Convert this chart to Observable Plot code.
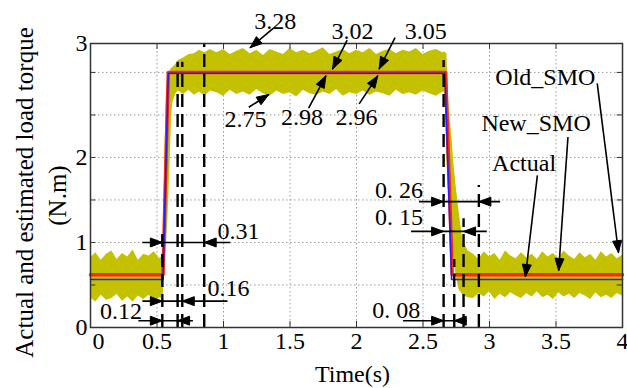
<!DOCTYPE html>
<html><head><meta charset="utf-8">
<script src="https://cdn.jsdelivr.net/npm/d3@7"></script>
<script src="https://cdn.jsdelivr.net/npm/@observablehq/plot@0.6"></script>
<style>body{margin:0;background:#fff} svg text{font-family:"Liberation Serif","Times New Roman",serif !important;}</style>
</head><body><div id="chart"></div>
<script>
// ---- axis ticks ----
const xTicks = [0,0.5,1,1.5,2,2.5,3,3.5,4];
const xTickLabels = ["0","0.5","1","1.5","2","2.5","3","3.5","4"];
const yLabelPos = [0,1,2,3.34];
const yLabelText = ["0","1","2","3"];
const yGrid = [0.5,1,1.5,2,2.5,3];
const xGrid = [0.5,1,1.5,2,2.5,3,3.5];
const yMinor = [0.5,1,1.5,2,2.5,3];

// ---- series ----
const actualT = [0,0.545,0.585,2.665,2.715,4];
const actualV = [0.565,0.565,2.99,2.99,0.565,0.565];
const newT = [0,0.545,0.585,2.67,2.72,4];
const newV = [0.62,0.62,3.0,3.0,0.62,0.62];

const oldT = [0,0.04,0.08,0.12,0.16,0.2,0.24,0.28,0.32,0.36,0.4,0.44,0.48,0.52,0.545,
  0.55,0.56,0.57,0.58,0.59,0.6,0.61,0.62,0.64,0.66,0.7,0.74,0.78,0.82,0.86,0.9,
  0.95,1.0,1.05,1.1,1.15,1.2,1.25,1.3,1.35,1.4,1.45,1.5,1.55,1.6,1.65,1.7,1.75,1.8,1.85,1.9,1.95,2.0,2.05,2.1,2.15,2.2,2.25,2.3,2.35,2.4,2.45,2.5,2.55,2.6,2.65,
  2.665,2.68,2.69,2.7,2.72,2.73,2.75,2.77,2.8,2.84,
  2.88,2.92,2.96,3.0,3.04,3.08,3.12,3.16,3.2,3.24,3.28,3.32,3.36,3.4,3.44,3.48,3.52,3.56,3.6,3.64,3.68,3.72,3.76,3.8,3.84,3.88,3.92,3.96,4.0];
const oldHi = [0.82,0.88,0.79,0.86,0.9,0.8,0.87,0.83,0.91,0.79,0.86,0.84,0.89,0.81,0.85,
  1.25,2.1,2.7,2.92,3.0,3.02,3.05,3.06,3.09,3.14,3.17,3.21,3.22,3.26,3.23,3.27,
  3.23,3.27,3.21,3.25,3.28,3.22,3.26,3.2,3.27,3.24,3.21,3.28,3.23,3.26,3.22,3.25,3.29,3.21,3.24,3.27,3.22,3.26,3.23,3.28,3.21,3.25,3.27,3.22,3.26,3.24,3.28,3.21,3.25,3.27,3.23,
  3.24,3.22,2.75,2.5,2.2,1.96,1.65,1.38,1.02,0.9,
  0.86,0.8,0.89,0.83,0.87,0.79,0.9,0.84,0.81,0.88,0.82,0.86,0.8,0.89,0.83,0.87,0.81,0.9,0.84,0.8,0.88,0.82,0.86,0.79,0.89,0.83,0.87,0.81,0.85];
const oldLo = [0.35,0.3,0.38,0.32,0.34,0.39,0.31,0.36,0.3,0.37,0.33,0.38,0.31,0.35,0.34,
  0.45,0.7,0.95,1.2,1.6,2.0,2.5,2.65,2.74,2.78,2.74,2.79,2.73,2.77,2.72,2.78,
  2.76,2.72,2.79,2.74,2.77,2.73,2.8,2.75,2.72,2.78,2.74,2.76,2.71,2.79,2.75,2.73,2.77,2.74,2.8,2.72,2.76,2.74,2.78,2.73,2.77,2.75,2.72,2.79,2.74,2.76,2.73,2.78,2.75,2.72,2.77,
  2.76,1.95,1.65,1.4,1.0,0.85,0.6,0.45,0.38,0.35,
  0.34,0.4,0.36,0.42,0.33,0.39,0.35,0.41,0.37,0.34,0.4,0.36,0.42,0.35,0.38,0.33,0.41,0.36,0.39,0.34,0.4,0.37,0.33,0.41,0.35,0.38,0.34,0.4,0.37];

// ---- annotations ----
const dashX = [0.54,0.655,0.69,0.855,2.655,2.735,2.805,2.92];
const dashTop = [1.1,3.12,3.12,3.34,3.14,0.8,1.28,1.67];

const dimY = [1.0,0.31,0.08,1.48,1.13,0.08];
const dimFrom = [0.39,0.39,0.36,2.47,2.41,2.35];
const dimTo = [1.05,1.03,0.77,3.08,2.98,2.83];
const dimA = [0.54,0.54,0.54,2.655,2.655,2.655];
const dimB = [0.855,0.69,0.655,2.92,2.805,2.735];
const dimLabels = ["0.31","0.16","0.12","0. 26","0. 15","0. 08"];
const dimLabelX = [0.955,0.88,0.23,2.5,2.5,2.48];
const dimLabelY = [1.13,0.46,0.19,1.61,1.29,0.2];
const dimAnchor = ["start","start","middle","end","end","end"];

const arrowTail = [[1.376,3.52],[1.93,3.38],[2.29,3.41],[1.19,2.59],[1.64,2.58],[2.02,2.63],[3.81,2.87],[3.59,2.24],[3.36,1.79]];
const arrowTip  = [[1.2,3.29],[1.82,3.04],[2.17,3.04],[1.34,2.74],[1.77,2.96],[2.16,2.96],[3.97,0.88],[3.52,0.67],[3.27,0.6]];

const valueLabels = ["3.28","3.02","3.05","2.75","2.98","2.96"];
const valueLabelX = [1.39,1.97,2.52,1.165,1.59,2.0];
const valueLabelY = [3.6,3.48,3.48,2.45,2.47,2.47];

const seriesNames = ["Old_SMO","New_SMO","Actual"];
const seriesLabelX = [3.42,3.35,3.26];
const seriesLabelY = [2.94,2.40,1.93];

const yTitle = ["Actual and estimated load torque","(N.m)"];
const xTitle = "Time(s)";

// ---- layout ----
const W=627,H=388,ML=90,MR=5,MT=43,MB=61;
const XD=[0,4], YD=[0,3.34];
const kx=(W-ML-MR)/(XD[1]-XD[0]), ky=(H-MB-MT)/(YD[1]-YD[0]);
const toPx = p => [ML+(p[0]-XD[0])*kx, H-MB-(p[1]-YD[0])*ky];
const toData = q => [XD[0]+(q[0]-ML)/kx, YD[0]+(H-MB-q[1])/ky];
function head(tail, tip, id, L=12, w=4.5){
  const a=toPx(tail), b=toPx(tip);
  const dx=b[0]-a[0], dy=b[1]-a[1], len=Math.hypot(dx,dy);
  const ux=dx/len, uy=dy/len, bx=b[0]-L*ux, by=b[1]-L*uy, nx=-uy, ny=ux;
  return [b,[bx+w*nx,by+w*ny],[bx-w*nx,by-w*ny],b].map(q=>{const d=toData(q);return {id,x:d[0],y:d[1]};});
}

const actual = actualT.map((t,i)=>({t,v:actualV[i]}));
const newSmo = newT.map((t,i)=>({t,v:newV[i]}));
const oldSmo = oldT.map((t,i)=>({t,lo:oldLo[i],hi:oldHi[i]}));
const dashes = dashX.map((x,i)=>({x,y1:0,y2:dashTop[i]}));
const dims = dimY.map((y,i)=>({y,x1:dimFrom[i],x2:dimTo[i]}));
const dimText = dimLabels.map((t,i)=>({t,x:dimLabelX[i],y:dimLabelY[i],a:dimAnchor[i]}));
let heads = [];
dimY.forEach((y,i)=>{
  heads = heads.concat(head([dimA[i]-0.5,y],[dimA[i],y],"da"+i));
  heads = heads.concat(head([dimB[i]+0.5,y],[dimB[i],y],"db"+i));
});
arrowTail.forEach((p,i)=>{ heads = heads.concat(head(p,arrowTip[i],"ar"+i)); });
const arrows = arrowTail.map((p,i)=>({x1:p[0],y1:p[1],x2:arrowTip[i][0],y2:arrowTip[i][1]}));

const FF = "Liberation Serif";
const font = 24;
const T = (o) => Object.assign({fontFamily:FF, fontSize:font, fill:"black"}, o);
const yMid = (YD[0]+YD[1])/2;
const chart = Plot.plot({
  width:W, height:H, marginLeft:ML, marginRight:MR, marginTop:MT, marginBottom:MB,
  x:{domain:XD, axis:null}, y:{domain:YD, axis:null},
  style:{background:"white", color:"black"},
  marks:[
    Plot.ruleY(yGrid,{stroke:"#9a9a9a",strokeDasharray:"1.5,2.5",strokeWidth:1}),
    Plot.ruleX(xGrid,{stroke:"#9a9a9a",strokeDasharray:"1.5,2.5",strokeWidth:1}),
    Plot.areaY(oldSmo,{x:"t",y1:"lo",y2:"hi",fill:"#c4c200"}),
    Plot.line(newSmo,{x:"t",y:"v",stroke:"#ff2a00",strokeWidth:3.5}),
    Plot.line(actual,{x:"t",y:"v",stroke:"#2a1aff",strokeWidth:1.6}),
    Plot.ruleX(dashes,{x:"x",y1:"y1",y2:"y2",stroke:"black",strokeWidth:2.4,strokeDasharray:"13,7"}),
    Plot.frame({stroke:"#333",strokeWidth:1.5}),
    Plot.ruleY(yMinor,{x1:0,x2:0.04,stroke:"#333"}),
    Plot.ruleY(yMinor,{x1:3.96,x2:4,stroke:"#333"}),
    Plot.ruleX(xGrid,{y1:0,y2:0.07,stroke:"#333"}),
    Plot.ruleX(xGrid,{y1:3.27,y2:3.34,stroke:"#333"}),
    Plot.link(dims,{x1:"x1",x2:"x2",y1:"y",y2:"y",stroke:"black",strokeWidth:1.6}),
    Plot.link(arrows,{x1:"x1",y1:"y1",x2:"x2",y2:"y2",stroke:"black",strokeWidth:1.6}),
    Plot.line(heads,{x:"x",y:"y",z:"id",fill:"black",stroke:"black",strokeWidth:1}),
    // tick labels
    Plot.text(xTicks.slice(1).map((x,i)=>({x,y:0,t:xTickLabels[i+1]})),T({x:"x",y:"y",text:"t",dy:14})),
    Plot.text([{x:xTicks[0],y:0,t:xTickLabels[0]}],T({x:"x",y:"y",text:"t",dy:14,dx:8})),
    Plot.text(yLabelPos.map((y,i)=>({x:0,y,t:yLabelText[i]})),T({x:"x",y:"y",text:"t",dx:-3,textAnchor:"end"})),
    // titles
    Plot.text([{x:(XD[0]+XD[1])/2,y:0,t:xTitle}],T({x:"x",y:"y",text:"t",dy:47,dx:-4})),
    Plot.text([{x:0,y:yMid,t:yTitle[0]}],T({x:"x",y:"y",text:"t",rotate:-90,dx:-66,dy:7,fontSize:25})),
    Plot.text([{x:0,y:yMid,t:yTitle[1]}],T({x:"x",y:"y",text:"t",rotate:-90,dx:-33,dy:10,fontSize:25})),
    // annotation texts
    Plot.text(dimText.filter(d=>d.a==="start"),T({x:"x",y:"y",text:"t",textAnchor:"start"})),
    Plot.text(dimText.filter(d=>d.a==="middle"),T({x:"x",y:"y",text:"t",textAnchor:"middle"})),
    Plot.text(dimText.filter(d=>d.a==="end"),T({x:"x",y:"y",text:"t",textAnchor:"end"})),
    Plot.text(valueLabels.map((t,i)=>({t,x:valueLabelX[i],y:valueLabelY[i]})),T({x:"x",y:"y",text:"t"})),
    Plot.text(seriesNames.map((t,i)=>({t,x:seriesLabelX[i],y:seriesLabelY[i]})),T({x:"x",y:"y",text:"t"}))
  ]
});
document.getElementById("chart").appendChild(chart);
</script></body></html>
